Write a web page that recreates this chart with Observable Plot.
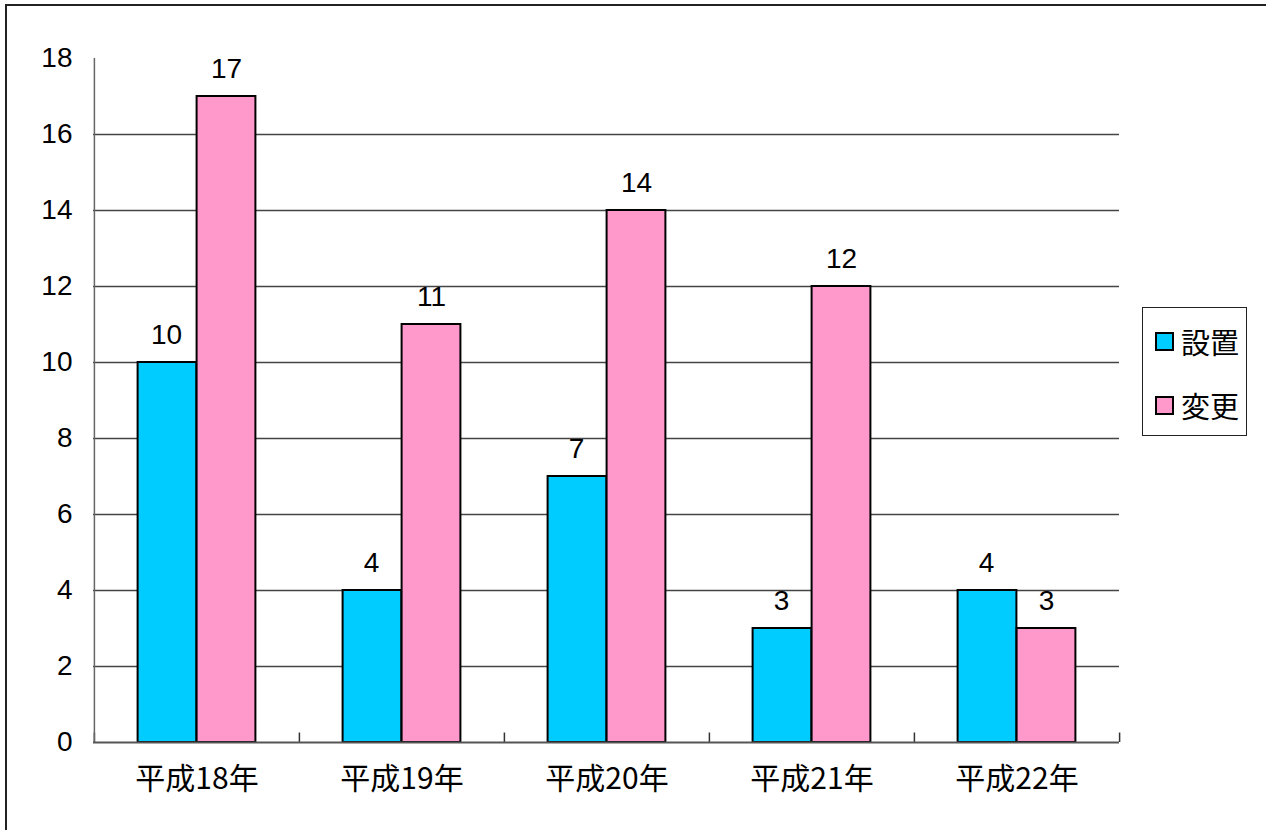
<!DOCTYPE html>
<html>
<head>
<meta charset="utf-8">
<script src="https://cdn.jsdelivr.net/npm/d3@7"></script>
<script src="https://cdn.jsdelivr.net/npm/@observablehq/plot@0.6"></script>
<style>
  html, body { margin: 0; padding: 0; background: #fff; }
  #wrap { position: relative; width: 1266px; height: 830px; overflow: hidden; font-family: "Liberation Sans", "Noto Sans CJK JP", sans-serif; }
  #frame { position: absolute; left: 5px; top: 4px; width: 1300px; height: 900px; border-left: 2px solid #222; border-top: 2px solid #222; }
  #chart { position: absolute; left: 0; top: 0; }
  #legend { position: absolute; left: 1142px; top: 307px; width: 105px; height: 129px; border: 1px solid #222; background: #fff; box-sizing: border-box; }
  .item { position: absolute; left: 12px; display: flex; align-items: center; font-size: 29px; line-height: 34px; font-family: "Noto Sans CJK JP", sans-serif; color: #000; }
  .sw { width: 15px; height: 15px; border: 2px solid #000; margin-right: 7px; }
</style>
</head>
<body>
<div id="wrap">
  <div id="frame"></div>
  <div id="chart"></div>
  <div id="legend"></div>
</div>
<script>
const categories = ["平成18年", "平成19年", "平成20年", "平成21年", "平成22年"];
const tickLabels = ["平成18年", "平成19年", "平成20年", "平成21年", "平成22年"];
const seriesNames = ["設置", "変更"];
const setchi = [10, 4, 7, 3, 4];
const henko = [17, 11, 14, 12, 3];
const colors = ["#00CCFF", "#FF99CC"];
const yTicks = [0, 2, 4, 6, 8, 10, 12, 14, 16, 18];

const dataA = categories.map((c, i) => ({cat: c, value: setchi[i], series: seriesNames[0]}));
const dataB = categories.map((c, i) => ({cat: c, value: henko[i], series: seriesNames[1]}));

const W = 1266, H = 830;
const mL = 93, mR = 147, mT = 58, mB = 88;
const band = (W - mL - mR) / categories.length;
const barW = 59;
const gap = band / 2 - barW;

const chart = Plot.plot({
  width: W,
  height: H,
  marginLeft: mL,
  marginRight: mR,
  marginTop: mT,
  marginBottom: mB,
  style: {fontFamily: "'Liberation Sans', 'Noto Sans CJK JP', sans-serif", background: "transparent", overflow: "visible"},
  x: {domain: categories, padding: 0, label: null},
  y: {domain: [0, 18], label: null},
  marks: [
    Plot.ruleY(yTicks.filter(d => d > 0 && d < 18), {stroke: "#444", strokeWidth: 1.3}),
    Plot.ruleY(yTicks, {x: () => categories[0], insetRight: band - 9, stroke: "#333", strokeWidth: 1.5}),
    Plot.ruleX(categories, {dx: -band / 2, y1: 0, y2: 0.25, stroke: "#333", strokeWidth: 1.5}),
    Plot.ruleX([categories[categories.length - 1]], {dx: band / 2, y1: 0, y2: 0.25, stroke: "#333", strokeWidth: 1.5}),
    Plot.ruleX([categories[0]], {dx: -band / 2, y1: 0, y2: 18, stroke: "#666", strokeWidth: 1.5}),
    Plot.barY(dataA, {x: "cat", y: "value", fill: colors[0], stroke: "#000", strokeWidth: 2, insetLeft: gap, insetRight: band / 2}),
    Plot.barY(dataB, {x: "cat", y: "value", fill: colors[1], stroke: "#000", strokeWidth: 2, insetLeft: band / 2, insetRight: gap}),
    Plot.ruleY([0], {stroke: "#555", strokeWidth: 1.8}),
    Plot.text(dataA, {x: "cat", y: "value", text: d => String(d.value), dx: -barW / 2 - 1, dy: -27, fontSize: 28, fill: "#000"}),
    Plot.text(dataB, {x: "cat", y: "value", text: d => String(d.value), dx: barW / 2, dy: -27, fontSize: 28, fill: "#000"}),
    Plot.axisY({ticks: yTicks, tickSize: 0, tickPadding: 21, fontSize: 28, tickFormat: d => String(d), label: null, color: "#000"}),
    Plot.axisX({tickSize: 0, tickPadding: 25, fontSize: 30, tickFormat: (d) => tickLabels[categories.indexOf(d)], label: null, fontFamily: "'Noto Sans CJK JP', sans-serif", color: "#000"})
  ]
});
document.getElementById("chart").appendChild(chart);

const legend = document.getElementById("legend");
seriesNames.forEach((name, i) => {
  const item = document.createElement("div");
  item.className = "item";
  item.style.top = (16 + i * 64) + "px";
  const sw = document.createElement("div");
  sw.className = "sw";
  sw.style.background = colors[i];
  const t = document.createElement("span");
  t.textContent = name;
  item.appendChild(sw);
  item.appendChild(t);
  legend.appendChild(item);
});
</script>
</body>
</html>
